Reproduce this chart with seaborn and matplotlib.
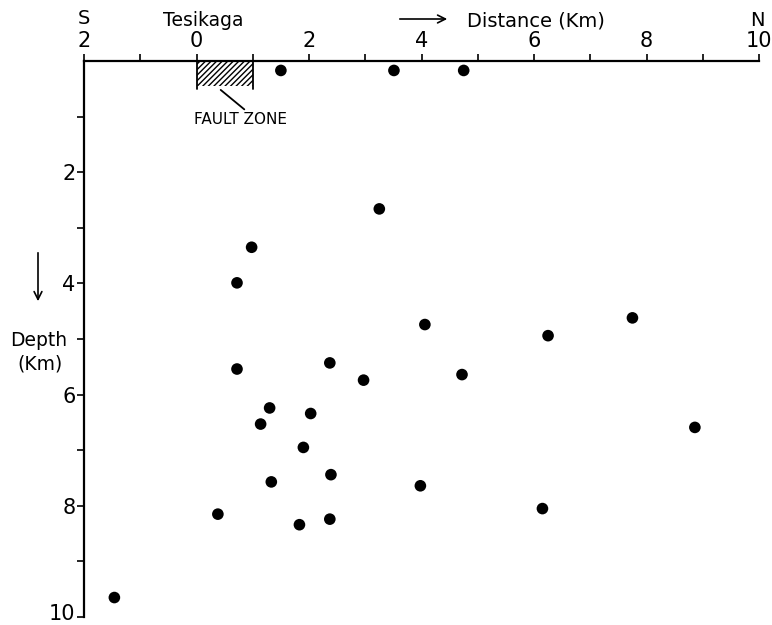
import seaborn as sns
import matplotlib.pyplot as plt
import matplotlib.transforms as mtransforms
import pandas as pd
from matplotlib.patches import Rectangle, FancyArrowPatch

# Epicentre section: distance from Tesikaga (S negative, N positive) and depth
distance_km = [1.50, 3.51, 4.75, 3.25, 0.98, 0.72, 7.75, 4.06, 6.25, 2.37,
               0.72, 4.72, 2.97, 1.30, 2.03, 1.14, 8.86, 1.90, 2.39, 1.33,
               3.98, 6.15, 0.38, 2.37, 1.83, -1.46]
depth_km = [0.17, 0.17, 0.17, 2.66, 3.35, 3.99, 4.62, 4.74, 4.94, 5.43,
            5.54, 5.64, 5.74, 6.24, 6.34, 6.53, 6.59, 6.95, 7.44, 7.57,
            7.64, 8.05, 8.15, 8.24, 8.34, 9.65]

x_ticks = [-2, 0, 2, 4, 6, 8, 10]
x_tick_labels = ['2', '0', '2', '4', '6', '8', '10']
y_ticks = [2, 4, 6, 8, 10]
y_tick_labels = ['2', '4', '6', '8', '10']
fault_zone = (0, 1)      # km along section
fault_depth = 0.45

df = pd.DataFrame({'Distance': distance_km, 'Depth': depth_km})

sns.set_style('ticks')
plt.rcParams['font.family'] = ['DejaVu Sans']
plt.rcParams['text.color'] = 'black'
plt.rcParams['hatch.linewidth'] = 1.0

W, H = 772, 625
fig = plt.figure(figsize=(W / 100, H / 100), dpi=100)
ax = fig.add_axes([84 / W, 1 - 617 / H, (759 - 84) / W, (617 - 61) / H])

sns.scatterplot(data=df, x='Distance', y='Depth', ax=ax, color='black',
                s=70, edgecolor='none', legend=False, zorder=3)

ax.set_xlim(-2, 10)
ax.set_ylim(10, 0)
ax.xaxis.tick_top()
ax.set_xticks(x_ticks)
ax.set_xticklabels(x_tick_labels)
ax.set_xticks(range(-1, 10, 2), minor=True)
ax.set_yticks(y_ticks)
ax.set_yticklabels(y_tick_labels)
ax.set_yticks(range(1, 10, 2), minor=True)
ax.tick_params(which='both', direction='out', length=5, width=1.2,
               color='black', labelsize=15, labelcolor='black')
ax.tick_params(axis='x', pad=2)
ax.tick_params(axis='y', pad=1)
ax.set_xlabel('')
ax.set_ylabel('')
for side in ['right', 'bottom']:
    ax.spines[side].set_visible(False)
for side in ['top', 'left']:
    ax.spines[side].set_linewidth(1.6)
    ax.spines[side].set_color('black')

# lift the bottom "10" a little so it stays inside the figure
lift = mtransforms.ScaledTranslation(0, 5 / 100, fig.dpi_scale_trans)
last = ax.get_yticklabels()[-1]
last.set_transform(last.get_transform() + lift)

# fault zone
ax.add_patch(Rectangle((fault_zone[0], 0), fault_zone[1] - fault_zone[0],
                       fault_depth, fill=False, hatch='//////',
                       linewidth=0, edgecolor='black', clip_on=False))
for fx in fault_zone:
    ax.plot([fx, fx], [0, 0.5], color='black', lw=1.3, clip_on=False)
ax.plot([0.43, 0.85], [0.52, 0.87], color='black', lw=1.3)
ax.text(0.79, 1.06, 'FAULT ZONE', fontsize=11, ha='center', va='center')

# labels around the frame
fig.text(84 / W, 1 - 19 / H, 'S', fontsize=14, ha='center', va='center')
fig.text(757 / W, 1 - 20 / H, 'N', fontsize=14, ha='center', va='center')
fig.text(203 / W, 1 - 21 / H, 'Tesikaga', fontsize=13.5, ha='center', va='center')
fig.text(536 / W, 1 - 21 / H, 'Distance (Km)', fontsize=14, ha='center', va='center')
fig.patches.append(FancyArrowPatch(
    (397 / W, 1 - 19 / H), (450 / W, 1 - 19 / H), transform=fig.transFigure,
    arrowstyle='->', mutation_scale=14, color='black', lw=1.2))
fig.patches.append(FancyArrowPatch(
    (38 / W, 1 - 250 / H), (38 / W, 1 - 304 / H), transform=fig.transFigure,
    arrowstyle='->', mutation_scale=14, color='black', lw=1.2))
fig.text(39 / W, 1 - 340 / H, 'Depth', fontsize=13.5, ha='center', va='center')
fig.text(40 / W, 1 - 364 / H, '(Km)', fontsize=13.5, ha='center', va='center')

fig.savefig('out.png', dpi=100, facecolor='white')
